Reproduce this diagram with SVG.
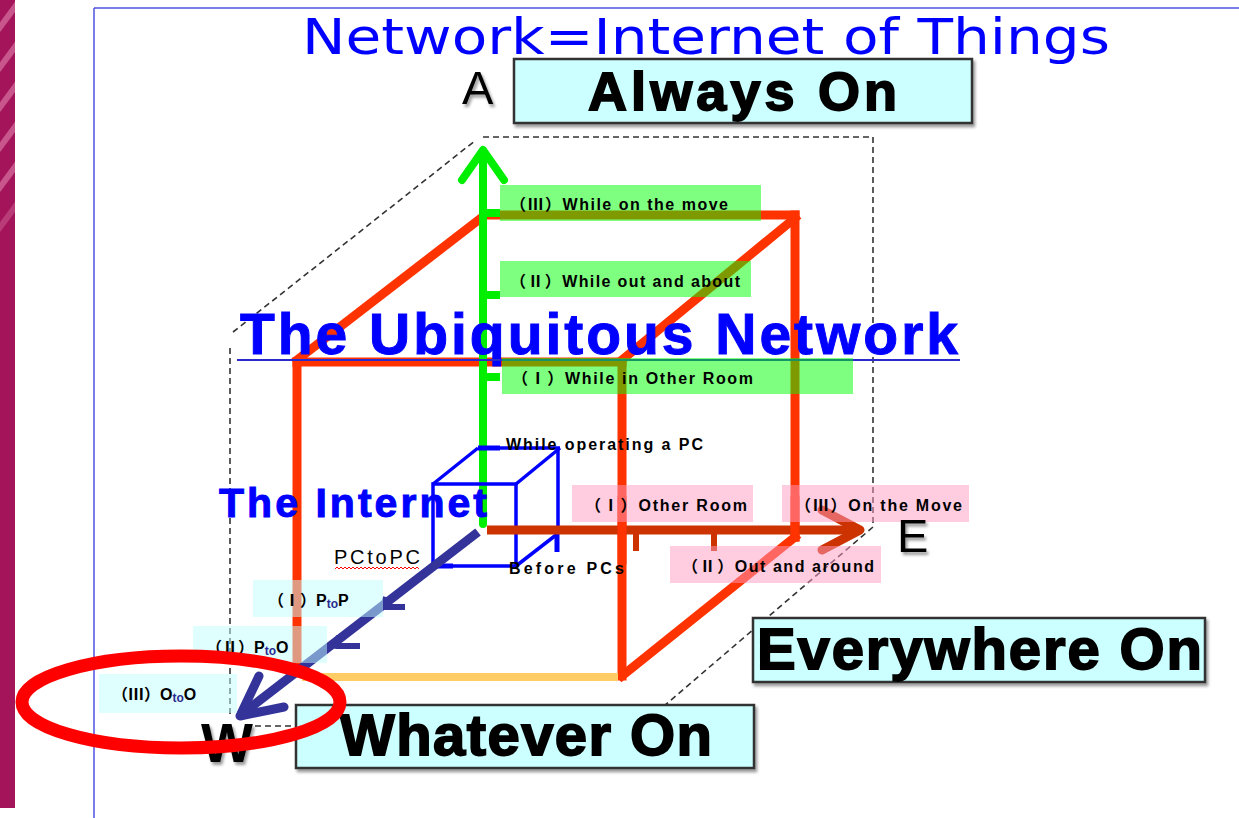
<svg xmlns="http://www.w3.org/2000/svg" width="1239" height="818" viewBox="0 0 1239 818">
<defs>
<style>
.lbl{font-family:"Liberation Sans","Noto Sans CJK JP",sans-serif;font-weight:bold;font-size:16px;fill:#000}
.big{font-family:"Liberation Sans",Arial,sans-serif;font-weight:bold;fill:#000;stroke:#000;stroke-width:1.8px}
.blueb{font-family:"Liberation Sans",Arial,sans-serif;font-weight:bold;fill:#0000ff;stroke:#0000ff;stroke-width:1px}
.dash{fill:none;stroke:#333;stroke-width:1.6;stroke-dasharray:6 4}
.red{stroke:#ff3300;stroke-width:9;fill:none;stroke-linecap:square}
.bc{stroke:#0000ff;stroke-width:3.5;fill:none}
.box{fill:#ccffff;stroke:#333;stroke-width:2.5}
.gr{fill:#00ff00;opacity:0.5}
.pk{fill:#ff99c2;opacity:0.5}
.cy{fill:#c0ffff;opacity:0.5}
.to{font-size:12px;fill:#2a2a90}
</style>
<filter id="sh" x="-10%" y="-20%" width="120%" height="140%">
<feGaussianBlur in="SourceAlpha" stdDeviation="1.5"/>
<feOffset dx="2" dy="3" result="b"/>
<feComponentTransfer><feFuncA type="linear" slope="0.4"/></feComponentTransfer>
<feMerge><feMergeNode/><feMergeNode in="SourceGraphic"/></feMerge>
</filter>
<clipPath id="stripclip"><rect x="0" y="0" width="15" height="808"/></clipPath>
</defs>
<rect width="1239" height="818" fill="#fff"/>
<g id="strip" clip-path="url(#stripclip)">
<rect x="0" y="0" width="15" height="808" fill="#a3145a"/>
<g stroke="#d2679a" stroke-width="6" opacity="0.8">
<line x1="-2" y1="30" x2="20" y2="0"/>
<line x1="-2" y1="70" x2="20" y2="40"/>
<line x1="-2" y1="110" x2="20" y2="80"/>
<line x1="-2" y1="150" x2="20" y2="120"/>
<line x1="-2" y1="190" x2="20" y2="160"/>
<line x1="-2" y1="230" x2="20" y2="200" opacity="0.6"/>
</g>
</g>
<g id="frame" stroke="#5050e0" stroke-width="1.5">
<line x1="94" y1="8" x2="1239" y2="8"/>
<line x1="94" y1="8" x2="94" y2="818"/>
</g>
<text id="title" x="302" y="54" font-family="DejaVu Sans,sans-serif" font-size="50" fill="#0000ff" textLength="808" lengthAdjust="spacingAndGlyphs">Network=Internet of Things</text>

<g id="outline">
<path class="dash" d="M233,332 L476,140 M483,137 L873,137 L873,527 L650,718 M230,348 L230,718 M255,726 L296,726"/>
</g>

<g id="connectors">
<g id="red-cube">
<line class="red" x1="485" y1="215" x2="795" y2="215"/>
<line class="red" x1="795" y1="215" x2="795" y2="537"/>
<line class="red" x1="297" y1="362" x2="622" y2="362"/>
<line class="red" x1="297" y1="362" x2="297" y2="670"/>
<line class="red" x1="622" y1="362" x2="622" y2="676"/>
<line class="red" x1="297" y1="360" x2="485" y2="215"/>
<line class="red" x1="622" y1="360" x2="795" y2="218"/>
<line class="red" x1="795" y1="537" x2="622" y2="676"/>
<line x1="302" y1="677" x2="618" y2="677" stroke="#ffcc66" stroke-width="8"/>
</g>
<g id="axis-A" stroke="#00ee00" stroke-width="8" fill="none" stroke-linecap="round" stroke-linejoin="round">
<line x1="483" y1="152" x2="483" y2="524"/>
<polyline points="462,180 483,150 504,180"/>
<line x1="483" y1="213" x2="500" y2="213" stroke-linecap="butt"/>
<line x1="483" y1="295" x2="500" y2="295" stroke-linecap="butt"/>
<line x1="483" y1="377" x2="500" y2="377" stroke-linecap="butt"/>
</g>
<g id="small-cube">
<line class="bc" x1="478" y1="448" x2="560" y2="448"/>
<line class="bc" x1="558" y1="448" x2="558" y2="533"/>
<line class="bc" x1="433" y1="484" x2="478" y2="448"/>
<line class="bc" x1="516" y1="484" x2="560" y2="448"/>
<rect class="bc" x="433" y="484" width="83" height="82"/>
<line class="bc" x1="516" y1="566" x2="556" y2="535"/>
<line x1="478" y1="448" x2="500" y2="448" stroke="#0000ff" stroke-width="5"/>
<line x1="557" y1="534" x2="557" y2="552" stroke="#0000ff" stroke-width="5"/>
<line x1="433" y1="566" x2="453" y2="566" stroke="#0000ff" stroke-width="5"/>
</g>
<g id="axis-E" stroke="#cc3300" stroke-width="9" fill="none" stroke-linejoin="round">
<line x1="487" y1="530" x2="858" y2="530"/>
<polyline points="822,510 860,530 822,550" stroke-linecap="round"/>
<line x1="636" y1="530" x2="636" y2="551" stroke-width="6"/>
<line x1="714" y1="530" x2="714" y2="551" stroke-width="6"/>
</g>
<line x1="622" y1="500" x2="622" y2="560" class="red" stroke-linecap="butt"/>
<line x1="795" y1="500" x2="795" y2="537" class="red" stroke-linecap="butt"/>
<g id="axis-W" stroke="#333399" stroke-width="9" fill="none" stroke-linejoin="round">
<line x1="478" y1="532" x2="242" y2="714"/>
<polyline points="259,676 240,716 284,707" stroke-linecap="round"/>
<polyline points="386,597 383,607 405,607" stroke-width="6"/>
<polyline points="339,636 336,646 360,646" stroke-width="6"/>
</g>
</g>

<g id="ubiquitous">
<text class="blueb" x="240" y="354" font-size="57" textLength="718" lengthAdjust="spacing">The Ubiquitous Network</text>
<line x1="237" y1="360" x2="960" y2="360" stroke="#2a2acc" stroke-width="2"/>
</g>
<text id="internet" class="blueb" x="219" y="517" font-size="41" textLength="268" lengthAdjust="spacing">The Internet</text>

<g id="label-a3"><rect class="gr" x="500" y="185" width="261" height="36"/><text class="lbl" x="510" y="210" textLength="218">（Ⅲ）While on the move</text></g>
<g id="label-a2"><rect class="gr" x="500" y="261" width="251" height="36"/><text class="lbl" x="510" y="287" textLength="230">（Ⅱ）While out and about</text></g>
<g id="label-a1"><rect class="gr" x="502" y="358" width="351" height="36"/><text class="lbl" x="512" y="384" textLength="241">（Ⅰ）While in Other Room</text></g>
<text id="label-a0" class="lbl" x="506" y="450" textLength="197">While operating a PC</text>

<g id="label-e1"><rect class="pk" x="572" y="485" width="181" height="37"/><text class="lbl" x="585" y="511" textLength="162">（Ⅰ）Other Room</text></g>
<g id="label-e3"><rect class="pk" x="782" y="485" width="187" height="37"/><text class="lbl" x="795" y="511" textLength="167">（Ⅲ）On the Move</text></g>
<g id="label-e2"><rect class="pk" x="670" y="546" width="211" height="37"/><text class="lbl" x="682" y="572" textLength="192">（Ⅱ）Out and around</text></g>

<g id="label-pcpc"><text x="334" y="564" font-family="Liberation Sans,sans-serif" font-size="20" fill="#000" textLength="86">PCtoPC</text>
<path d="M335,569 l2,-2 l2,2 l2,-2 l2,2 l2,-2 l2,2 l2,-2 l2,2 l2,-2 l2,2 l2,-2 l2,2 l2,-2 l2,2 l2,-2 l2,2 l2,-2 l2,2 l2,-2 l2,2 l2,-2 l2,2 l2,-2 l2,2 l2,-2 l2,2 l2,-2 l2,2 l2,-2 l2,2 l2,-2 l2,2 l2,-2 l2,2 l2,-2 l2,2 l2,-2 l2,2 l2,-2 l2,2 l2,-2 l2,2" fill="none" stroke="#ff0000" stroke-width="1"/></g>
<text id="label-before" class="lbl" x="509" y="574" font-size="17" textLength="115">Before PCs</text>

<g id="label-w1"><rect class="cy" x="253" y="580" width="130" height="37"/><text class="lbl" x="268" y="606">（Ⅰ）P<tspan class="to" dy="2">to</tspan><tspan dy="-2">P</tspan></text></g>
<g id="label-w2"><rect class="cy" x="193" y="626" width="134" height="37"/><text class="lbl" x="206" y="653">（Ⅱ）P<tspan class="to" dy="2">to</tspan><tspan dy="-2">O</tspan></text></g>
<g id="label-w3"><rect class="cy" x="99" y="674" width="138" height="39"/><text class="lbl" x="112" y="700">（Ⅲ）O<tspan class="to" dy="2">to</tspan><tspan dy="-2">O</tspan></text></g>

<g id="node-always" filter="url(#sh)">
<rect class="box" x="514" y="59" width="458" height="64"/>
<text class="big" x="588" y="110" font-size="54" textLength="309" lengthAdjust="spacing">Always On</text>
</g>
<text id="letter-A" x="462" y="104" font-family="Liberation Sans,sans-serif" font-size="47" fill="#000" filter="url(#sh)">A</text>
<g id="node-everywhere" filter="url(#sh)">
<rect class="box" x="753" y="618" width="452" height="64"/>
<text class="big" x="757" y="669" font-size="58" textLength="445" lengthAdjust="spacing">Everywhere On</text>
</g>
<text id="letter-E" x="897" y="552" font-family="Liberation Sans,sans-serif" font-size="47" fill="#000" filter="url(#sh)">E</text>
<g id="node-whatever" filter="url(#sh)">
<rect class="box" x="296" y="705" width="458" height="63"/>
<text class="big" x="340" y="755" font-size="58" textLength="372" lengthAdjust="spacing">Whatever On</text>
</g>
<text id="letter-W" x="201" y="762" font-family="Liberation Sans,sans-serif" font-weight="bold" font-size="55" fill="#000" filter="url(#sh)">W</text>
<ellipse id="highlight" cx="181" cy="702" rx="159" ry="46" fill="none" stroke="#ff0000" stroke-width="13"/>
</svg>
